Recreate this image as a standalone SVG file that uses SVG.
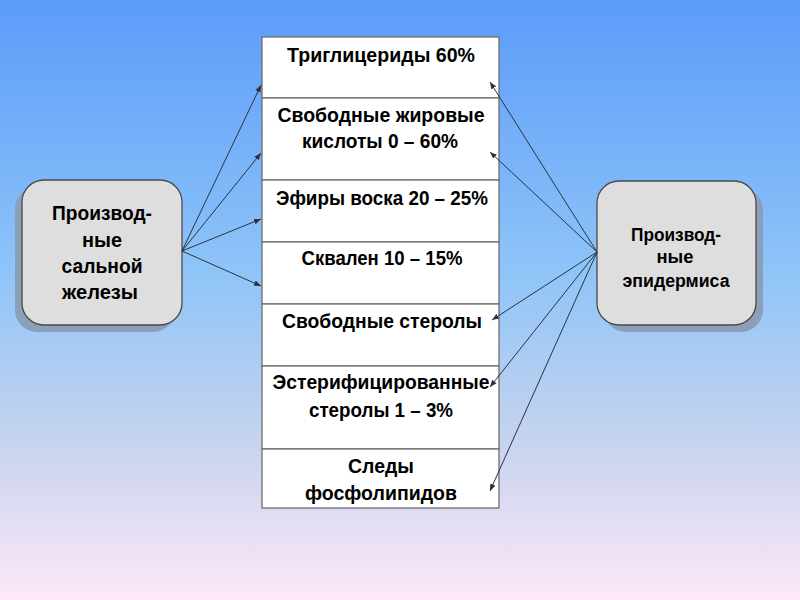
<svg xmlns="http://www.w3.org/2000/svg" width="800" height="600" viewBox="0 0 800 600">
<defs>
<linearGradient id="bg" x1="0" y1="0" x2="0" y2="1">
<stop offset="0" stop-color="#5b9bf9"/>
<stop offset="0.45" stop-color="#8ec4f8"/>
<stop offset="0.75" stop-color="#c9d4ee"/>
<stop offset="1" stop-color="#fde8f8"/>
</linearGradient>
<marker id="ah" viewBox="0 0 10 10" refX="10" refY="5" markerWidth="7" markerHeight="7" markerUnits="userSpaceOnUse" orient="auto">
<path d="M0,1 L10,5 L0,9 z" fill="#2a3340"/>
</marker>
<style>
.cell{fill:#ffffff;stroke:#6e6e6e;stroke-width:1.3}
.t{font-family:"Liberation Sans",Arial,sans-serif;font-weight:bold;font-size:21px;fill:#000;text-anchor:middle}
.n{font-family:"Liberation Sans",Arial,sans-serif;font-weight:bold;fill:#000;text-anchor:middle}
.box{fill:#dedede;stroke:#4a4a4a;stroke-width:1.3}
.shadow{fill:#8c9fb8}
.c{stroke:#2a3340;stroke-width:1;fill:none;marker-end:url(#ah)}
</style>
</defs>
<rect width="800" height="600" fill="url(#bg)"/>

<g id="table">
<g id="row1"><rect class="cell" x="262" y="37" width="237" height="61"/>
<text class="t" x="381" y="62" textLength="188" lengthAdjust="spacingAndGlyphs">Триглицериды 60%</text></g>
<g id="row2"><rect class="cell" x="262" y="98" width="237" height="82"/>
<text class="t" x="381" y="122" textLength="207" lengthAdjust="spacingAndGlyphs">Свободные жировые</text>
<text class="t" x="380" y="148" textLength="156" lengthAdjust="spacingAndGlyphs">кислоты 0 – 60%</text></g>
<g id="row3"><rect class="cell" x="262" y="180" width="237" height="62"/>
<text class="t" x="382" y="205" textLength="212" lengthAdjust="spacingAndGlyphs">Эфиры воска 20 – 25%</text></g>
<g id="row4"><rect class="cell" x="262" y="242" width="237" height="62"/>
<text class="t" x="382" y="265" textLength="161" lengthAdjust="spacingAndGlyphs">Сквален 10 – 15%</text></g>
<g id="row5"><rect class="cell" x="262" y="304" width="237" height="62"/>
<text class="t" x="382" y="328" textLength="200" lengthAdjust="spacingAndGlyphs">Свободные стеролы</text></g>
<g id="row6"><rect class="cell" x="262" y="366" width="237" height="83"/>
<text class="t" x="381" y="389" textLength="217" lengthAdjust="spacingAndGlyphs">Эстерифицированные</text>
<text class="t" x="381" y="417" textLength="144" lengthAdjust="spacingAndGlyphs">стеролы 1 – 3%</text></g>
<g id="row7"><rect class="cell" x="262" y="449" width="237" height="59"/>
<text class="t" x="381" y="473" textLength="66" lengthAdjust="spacingAndGlyphs">Следы</text>
<text class="t" x="381" y="500" textLength="152" lengthAdjust="spacingAndGlyphs">фосфолипидов</text></g>
</g>

<g id="sebaceous">
<rect class="shadow" x="15" y="187" width="160" height="145" rx="22"/>
<rect class="box" x="22" y="180" width="160" height="145" rx="22"/>
<text class="n" font-size="21" x="102" y="220" textLength="100" lengthAdjust="spacingAndGlyphs">Производ-</text>
<text class="n" font-size="21" x="102" y="247" textLength="40" lengthAdjust="spacingAndGlyphs">ные</text>
<text class="n" font-size="21" x="102" y="273" textLength="81" lengthAdjust="spacingAndGlyphs">сальной</text>
<text class="n" font-size="21" x="100" y="299" textLength="76" lengthAdjust="spacingAndGlyphs">железы</text>
</g>

<g id="epidermis">
<rect class="shadow" x="604" y="188" width="159" height="144" rx="22"/>
<rect class="box" x="597" y="181" width="159" height="144" rx="22"/>
<text class="n" font-size="18" x="676" y="241" textLength="90" lengthAdjust="spacingAndGlyphs">Производ-</text>
<text class="n" font-size="18" x="675" y="263" textLength="37" lengthAdjust="spacingAndGlyphs">ные</text>
<text class="n" font-size="18" x="676" y="287" textLength="107" lengthAdjust="spacingAndGlyphs">эпидермиса</text>
</g>

<g id="connectors">
<line class="c" x1="182" y1="251" x2="261" y2="85"/>
<line class="c" x1="182" y1="251" x2="261" y2="153"/>
<line class="c" x1="182" y1="251" x2="261" y2="219"/>
<line class="c" x1="182" y1="251" x2="261" y2="286"/>
<line class="c" x1="597" y1="252" x2="490" y2="82"/>
<line class="c" x1="597" y1="252" x2="490" y2="152"/>
<line class="c" x1="597" y1="252" x2="492" y2="320"/>
<line class="c" x1="597" y1="252" x2="490" y2="387"/>
<line class="c" x1="597" y1="252" x2="490" y2="491"/>
</g>
</svg>
